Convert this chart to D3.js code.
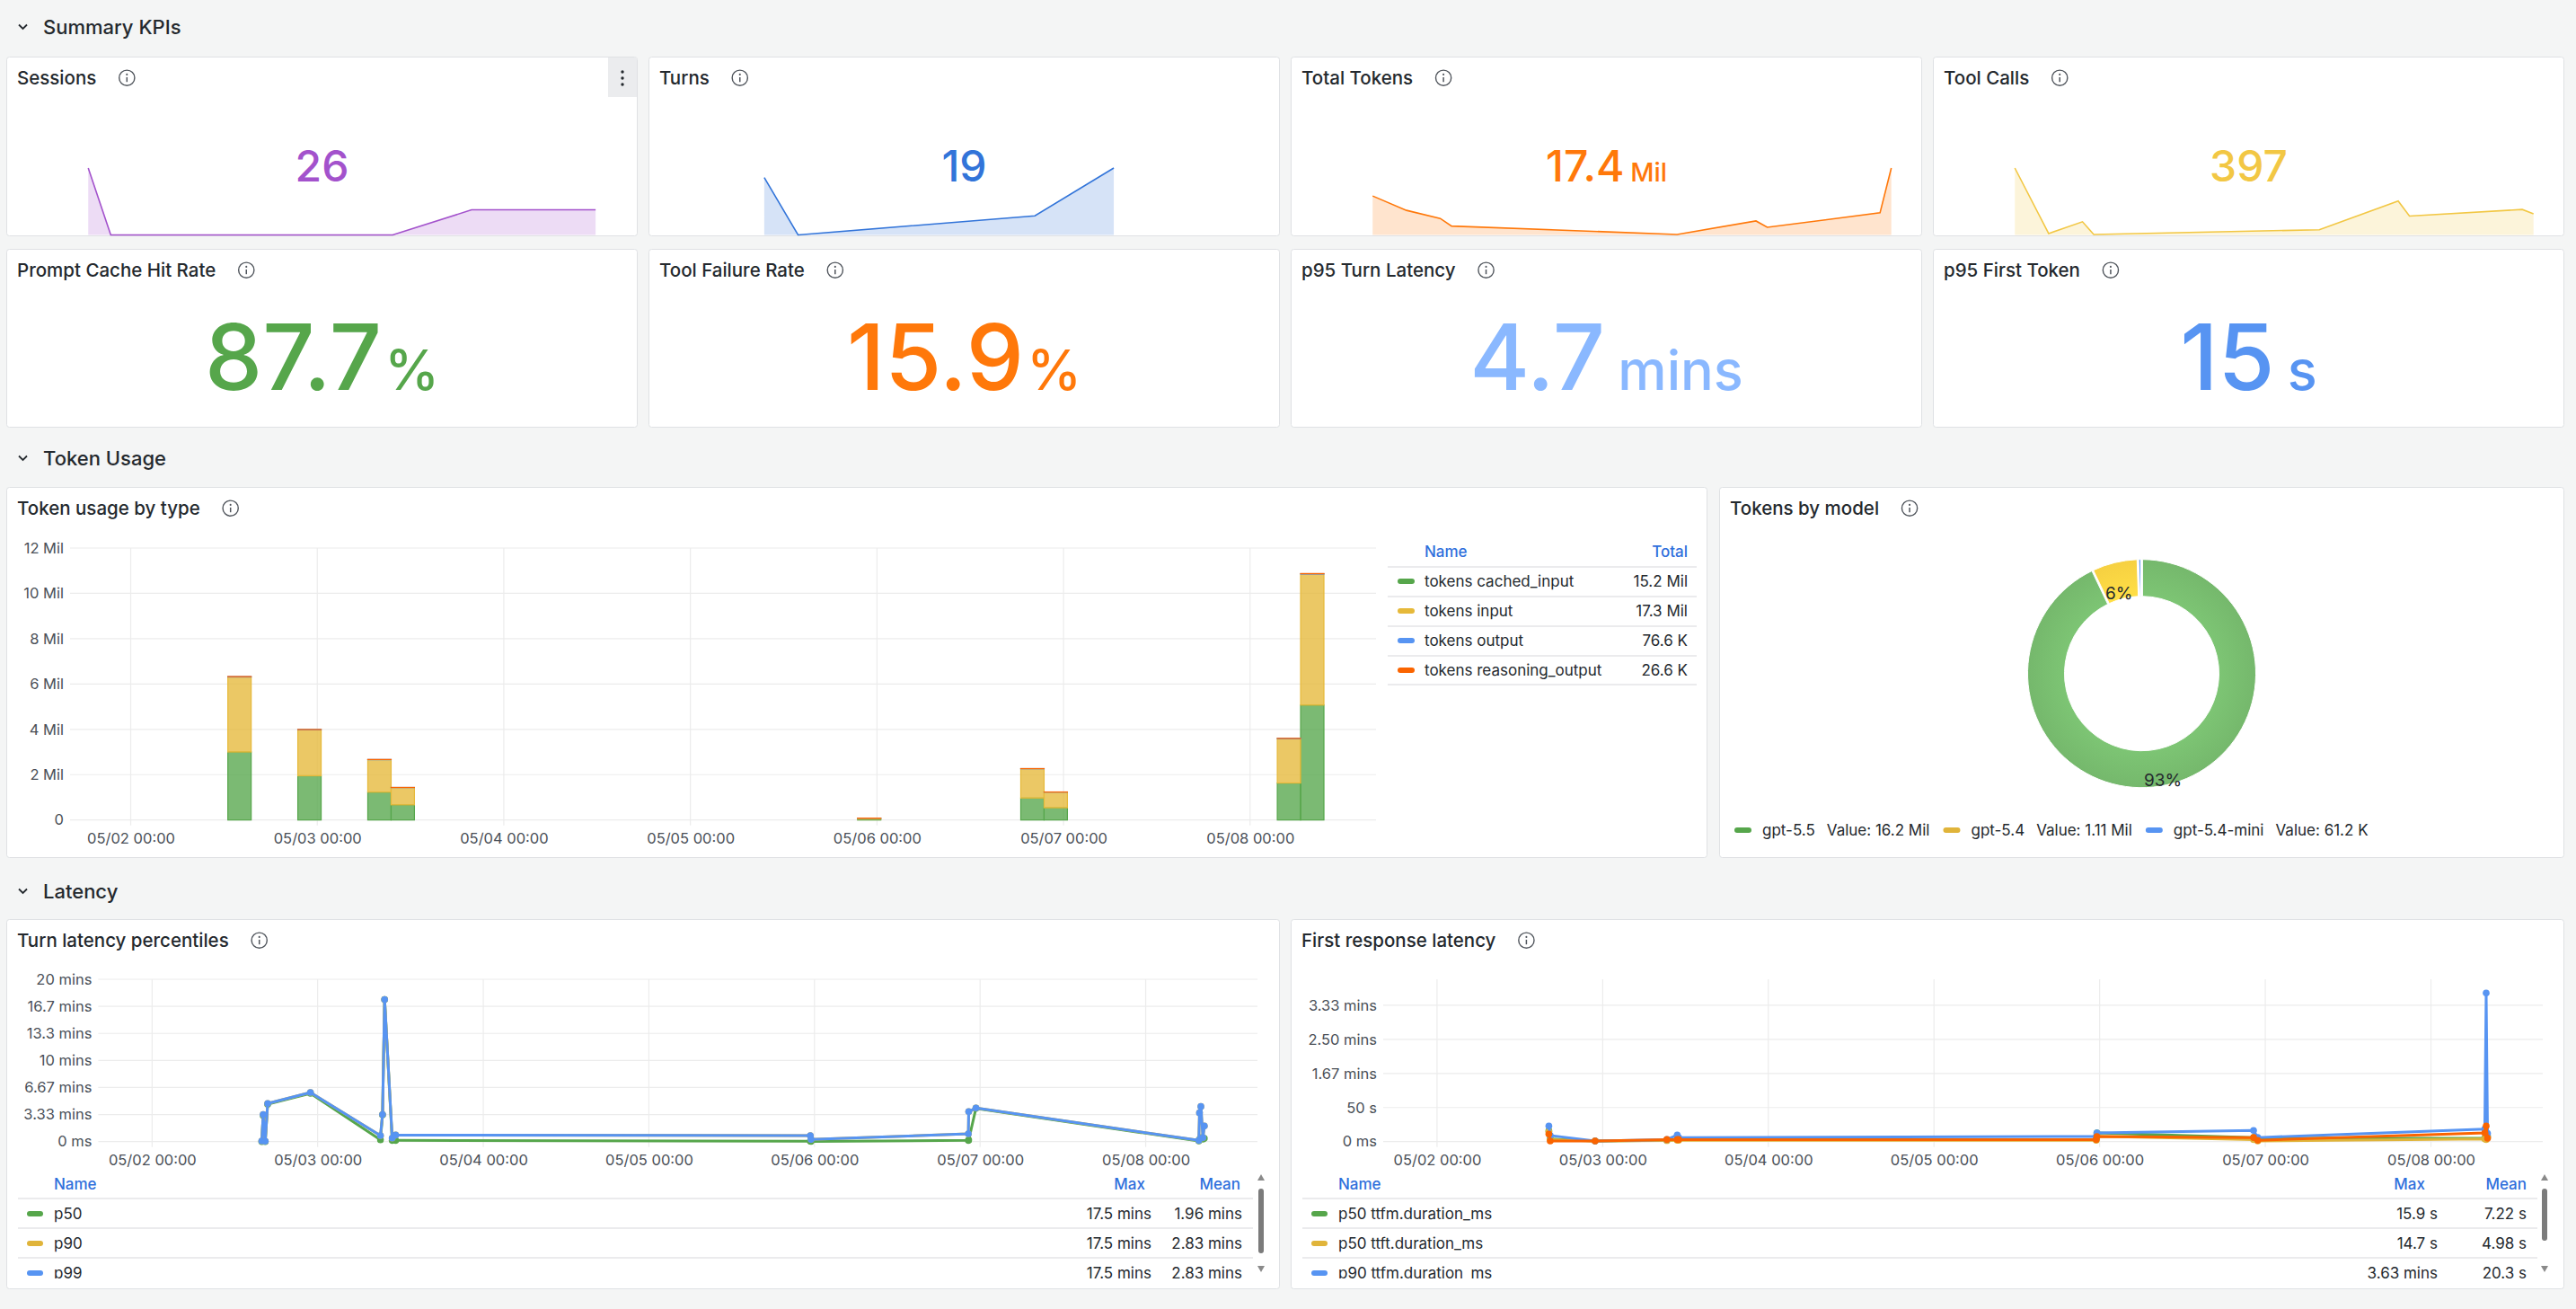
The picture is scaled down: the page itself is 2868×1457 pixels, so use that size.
<!DOCTYPE html>
<html>
<head>
<meta charset="utf-8">
<script src="https://cdn.jsdelivr.net/npm/d3@7"></script>
<style>
  html, body { margin: 0; padding: 0; background: #f4f5f5; }
  svg { display: block; }
</style>
</head>
<body>
<script>
const parseT = d3.timeParse("%m/%d %H:%M");
const fmtTick = d3.timeFormat("%m/%d %H:%M");

// dashboard time range + daily ticks
const timeRange = ["05/01 16:12", "05/08 16:12"];
const dayTicks = ["05/02 00:00", "05/03 00:00", "05/04 00:00", "05/05 00:00", "05/06 00:00", "05/07 00:00", "05/08 00:00"];

// summary KPIs
const kpiTitles = ["Sessions", "Turns", "Total Tokens", "Tool Calls"];
const kpiValues = ["26", "19", "17.4", "397"];
const kpiUnits = ["", "", "Mil", ""];
const kpiColors = ["#a352cc", "#3274d9", "#ff780a", "#f2c744"];

const sessionTimes = ["05/02 14:00", "05/02 20:00", "05/03 08:00", "05/05 23:00", "05/06 20:00", "05/08 05:00"];
const sessionCounts = [8, 0, 0, 0, 3, 3];
const turnTimes = ["05/02 23:00", "05/03 08:00", "05/05 23:00", "05/06 20:00"];
const turnCounts = [6, 0, 2, 7];
const bucketTimes = ["05/02 14:00", "05/02 23:00", "05/03 08:00", "05/03 11:00", "05/05 23:00", "05/06 20:00", "05/06 23:00", "05/08 05:00", "05/08 08:00"];
const toolCallCounts = [142, 3, 28, 1, 11, 72, 40, 54, 45];

const rateTitles = ["Prompt Cache Hit Rate", "Tool Failure Rate", "p95 Turn Latency", "p95 First Token"];
const rateValues = ["87.7", "15.9", "4.7", "15"];
const rateUnits = ["%", "%", "mins", "s"];
const rateColors = ["#56a64b", "#ff780a", "#8ab8ff", "#5794f2"];

// token usage by type, millions of tokens per 3h bucket
const tokenNames = ["tokens cached_input", "tokens input", "tokens output", "tokens reasoning_output"];
const tokenColors = ["#56a64b", "#e6b93a", "#5794f2", "#fa6400"];
const cachedInput = [3.0, 1.95, 1.23, 0.67, 0.04, 0.97, 0.54, 1.63, 5.07];
const inputTokens = [3.31, 2.03, 1.43, 0.76, 0.04, 1.29, 0.69, 1.96, 5.78];
const outputTokens = [0.015, 0.01, 0.008, 0.005, 0.002, 0.006, 0.004, 0.009, 0.0176];
const reasoningTokens = [0.005, 0.003, 0.003, 0.002, 0.001, 0.002, 0.0015, 0.003, 0.0061];
const tokenTotals = ["15.2 Mil", "17.3 Mil", "76.6 K", "26.6 K"];
const tokenTicks = [0, 2, 4, 6, 8, 10, 12];
const tokenTickLabels = ["0", "2 Mil", "4 Mil", "6 Mil", "8 Mil", "10 Mil", "12 Mil"];

// tokens by model
const models = ["gpt-5.5", "gpt-5.4", "gpt-5.4-mini"];
const modelTokens = [16.2, 1.11, 0.0612];
const modelValueLabels = ["16.2 Mil", "1.11 Mil", "61.2 K"];
const modelColors = ["#56a64b", "#e0b43a", "#5794f2"];
const modelSliceColors = ["#78bd6f", "#fdd643", "#6aa1f5"];

// turn latency percentiles, minutes
const turnLatTimes = ["05/02 15:54", "05/02 16:06", "05/02 16:24", "05/02 16:45", "05/02 22:57", "05/03 09:06", "05/03 09:24", "05/03 09:42", "05/03 10:48", "05/03 11:18", "05/05 23:24", "05/05 23:30", "05/06 22:18", "05/06 22:21", "05/06 23:24", "05/08 07:42", "05/08 07:48", "05/08 08:00", "05/08 08:18", "05/08 08:30"];
const turnP50 = [0, 3.2, 0, 4.6, 5.95, 0.22, 3.3, 17.5, 0.15, 0.15, 0.05, 0.02, 0.15, 0.2, 4.1, 0.07, 0.3, 0.5, 0.3, 0.4];
const turnP90 = [0.07, 3.33, 0.05, 4.7, 6.05, 0.74, 3.35, 17.5, 0.44, 0.81, 0.74, 0.26, 0.96, 3.69, 4.14, 0.15, 3.55, 4.32, 0.48, 1.92];
const turnP99 = [0.07, 3.33, 0.05, 4.7, 6.05, 0.74, 3.35, 17.5, 0.44, 0.81, 0.74, 0.26, 0.96, 3.69, 4.14, 0.15, 3.55, 4.32, 0.48, 1.92];
const turnTicks = [0, 10 / 3, 20 / 3, 10, 40 / 3, 50 / 3, 20];
const turnTickLabels = ["0 ms", "3.33 mins", "6.67 mins", "10 mins", "13.3 mins", "16.7 mins", "20 mins"];
const turnLegendNames = ["p50", "p90", "p99"];
const turnLegendMax = ["17.5 mins", "17.5 mins", "17.5 mins"];
const turnLegendMean = ["1.96 mins", "2.83 mins", "2.83 mins"];

// first response latency, seconds
const firstTimes = ["05/02 16:12", "05/02 16:24", "05/02 22:54", "05/03 09:18", "05/03 10:48", "05/03 11:00", "05/05 23:30", "05/05 23:36", "05/06 22:18", "05/06 22:54", "05/08 07:48", "05/08 08:00", "05/08 08:12"];
const ttfmP50 = [15.9, 4, 1, 2, 3, 3, 3, 12.8, 6, 5, 5, 6, 8];
const ttftP50 = [14.7, 3, 1, 1.5, 2, 2, 2, 8, 3, 1, 4, 3, 6];
const ttfmP90 = [23, 9, 1, 3, 9.7, 6, 7.5, 12.8, 16.3, 6, 18.5, 218, 12];
const ttftP90 = [11, 1, 1, 3, 3, 3, 3, 7.5, 6, 2, 12.8, 23, 5];
const firstTicks = [0, 50, 100, 150, 200];
const firstTickLabels = ["0 ms", "50 s", "1.67 mins", "2.50 mins", "3.33 mins"];
const firstLegendNames = ["p50 ttfm.duration_ms", "p50 ttft.duration_ms", "p90 ttfm.duration_ms"];
const firstLegendMax = ["15.9 s", "14.7 s", "3.63 mins"];
const firstLegendMean = ["7.22 s", "4.98 s", "20.3 s"];

const W = 2868, H = 1457;
const TEXT = "#24292e";
const AXIS = "#4a4f57";
const LINK = "#2f6fdc";
const GRID = "#ececec";
const FONT = "Inter, 'Noto Sans', sans-serif";

const svg = d3.select("body").append("svg")
  .attr("width", W)
  .attr("height", H)
  .style("font-family", FONT);
const defs = svg.append("defs");

svg.append("rect").attr("width", W).attr("height", H).attr("fill", "#f4f5f5");

const rowHeader = (y, label) => {
  svg.append("path")
    .attr("d", `M21,${y - 2.5} l4.5,4.5 l4.5,-4.5`)
    .attr("fill", "none")
    .attr("stroke", TEXT)
    .attr("stroke-width", 1.8);
  svg.append("text")
    .attr("x", 48)
    .attr("y", y)
    .attr("dy", "0.36em")
    .attr("font-size", 22)
    .attr("font-weight", 500)
    .attr("fill", TEXT)
    .text(label);
};

const panel = (x, y, w, h, title) => {
  const g = svg.append("g").attr("transform", `translate(${x}, ${y})`);
  g.append("rect")
    .attr("x", 0.5).attr("y", 0.5)
    .attr("width", w - 1).attr("height", h - 1)
    .attr("rx", 3)
    .attr("fill", "#fff")
    .attr("stroke", "#dfe1e4");
  const t = g.append("text")
    .attr("x", 12).attr("y", 30.5)
    .attr("font-size", 20.5)
    .attr("font-weight", 500)
    .attr("fill", TEXT)
    .text(title);
  const ix = 12 + t.node().getComputedTextLength() + 34;
  const info = g.append("g").attr("transform", `translate(${ix}, 23.7)`);
  info.append("circle").attr("r", 8.6).attr("fill", "none").attr("stroke", "#50555c").attr("stroke-width", 1.4);
  info.append("line").attr("x1", 0).attr("x2", 0).attr("y1", -0.8).attr("y2", 4.5)
    .attr("stroke", "#50555c").attr("stroke-width", 1.5);
  info.append("circle").attr("cy", -3.8).attr("r", 1.05).attr("fill", "#50555c");
  return g;
};

const statText = (g, cx, y, value, unit, fs, color) => {
  const t = g.append("text")
    .attr("x", cx).attr("y", y)
    .attr("text-anchor", "middle")
    .attr("font-size", fs)
    .attr("font-weight", 500)
    .attr("fill", color);
  t.append("tspan").text(value);
  if (unit) {
    t.append("tspan")
      .attr("font-size", fs * 0.6)
      .attr("dx", unit === "%" ? fs * 0.03 : fs * 0.14)
      .text(unit);
  }
};

const styleAxis = sel => {
  sel.select(".domain").remove();
  sel.selectAll("text")
    .attr("font-family", FONT)
    .attr("font-size", 16.5)
    .attr("fill", AXIS);
};

const plotFrame = (g, c) => {
  const x = d3.scaleTime().domain(timeRange.map(parseT)).range([c.left, c.right]);
  const y = d3.scaleLinear().domain(c.yDomain).range([c.bottom, c.top]);

  g.append("g").selectAll("line").data(c.yTicks).join("line")
    .attr("x1", c.left).attr("x2", c.right)
    .attr("y1", d => y(d)).attr("y2", d => y(d))
    .attr("stroke", GRID).attr("stroke-width", 1.2);
  g.append("g").selectAll("line").data(dayTicks.map(parseT)).join("line")
    .attr("x1", d => x(d)).attr("x2", d => x(d))
    .attr("y1", c.top).attr("y2", c.bottom + 6)
    .attr("stroke", GRID).attr("stroke-width", 1.2);

  const yAxis = d3.axisLeft(y)
    .tickValues(c.yTicks)
    .tickFormat((d, i) => c.yLabels[i])
    .tickSize(0)
    .tickPadding(7);
  g.append("g").attr("transform", `translate(${c.left}, 0)`).call(yAxis).call(styleAxis);

  const xAxis = d3.axisBottom(x)
    .tickValues(dayTicks.map(parseT))
    .tickFormat(fmtTick)
    .tickSize(0)
    .tickPadding(15);
  g.append("g").attr("transform", `translate(0, ${c.bottom})`).call(xAxis).call(styleAxis);

  return { x, y };
};

const drawSeries = (g, x, y, times, values, color) => {
  const pts = times.map((t, i) => ({ t: parseT(t), v: values[i] }));
  const line = d3.line().x(d => x(d.t)).y(d => y(d.v));
  g.append("path")
    .datum(pts)
    .attr("d", line)
    .attr("fill", "none")
    .attr("stroke", color)
    .attr("stroke-width", 3)
    .attr("stroke-linejoin", "round");
  g.append("g").selectAll("circle").data(pts).join("circle")
    .attr("cx", d => x(d.t))
    .attr("cy", d => y(d.v))
    .attr("r", 3.8)
    .attr("fill", color);
};

const latencyLegend = (g, id, pw, names, colors, maxes, means, c) => {
  g.append("text").attr("x", 53).attr("y", 295).attr("dy", "0.35em")
    .attr("font-size", 17).attr("font-weight", 500).attr("fill", LINK).text("Name");
  g.append("text").attr("x", c.maxHead).attr("y", 295).attr("dy", "0.35em").attr("text-anchor", "end")
    .attr("font-size", 17).attr("font-weight", 500).attr("fill", LINK).text("Max");
  g.append("text").attr("x", c.meanHead).attr("y", 295).attr("dy", "0.35em").attr("text-anchor", "end")
    .attr("font-size", 17).attr("font-weight", 500).attr("fill", LINK).text("Mean");

  defs.append("clipPath").attr("id", id)
    .append("rect").attr("x", 0).attr("y", 300).attr("width", pw).attr("height", 100);
  const body = g.append("g").attr("clip-path", `url(#${id})`);
  [311, 344, 377, 410].forEach(sy => {
    body.append("line").attr("x1", 13).attr("x2", 1388).attr("y1", sy).attr("y2", sy)
      .attr("stroke", "#e4e5e7").attr("stroke-width", 1.5);
  });
  names.forEach((n, i) => {
    const ry = 328 + i * 33;
    body.append("rect").attr("x", 23).attr("y", ry - 3).attr("width", 18).attr("height", 6).attr("rx", 3)
      .attr("fill", colors[i]);
    body.append("text").attr("x", 53).attr("y", ry).attr("dy", "0.35em")
      .attr("font-size", 17).attr("fill", TEXT).text(n);
    body.append("text").attr("x", c.maxVal).attr("y", ry).attr("dy", "0.35em").attr("text-anchor", "end")
      .attr("font-size", 17).attr("fill", TEXT).text(maxes[i]);
    body.append("text").attr("x", c.meanVal).attr("y", ry).attr("dy", "0.35em").attr("text-anchor", "end")
      .attr("font-size", 17).attr("fill", TEXT).text(means[i]);
  });

  // scrollbar
  const sx = c.scroll;
  g.append("path").attr("d", `M${sx - 4},291 L${sx + 4},291 L${sx},284 Z`).attr("fill", "#8a8a8a");
  g.append("path").attr("d", `M${sx - 4},386 L${sx + 4},386 L${sx},393 Z`).attr("fill", "#8a8a8a");
  g.append("rect").attr("x", sx - 3).attr("y", 300).attr("width", 6).attr("height", c.thumb).attr("rx", 3)
    .attr("fill", "#7b7b7b");
};

// ---------- rows ----------
rowHeader(30, "Summary KPIs");
rowHeader(510, "Token Usage");
rowHeader(992, "Latency");

// ---------- KPI stats ----------
const bucketTotals = bucketTimes.map((t, i) => cachedInput[i] + inputTokens[i] + outputTokens[i] + reasoningTokens[i]);
const kpiSpark = [
  [sessionTimes, sessionCounts],
  [turnTimes, turnCounts],
  [bucketTimes, bucketTotals],
  [bucketTimes, toolCallCounts]
];

kpiTitles.forEach((title, i) => {
  const pw = 703, ph = 200;
  const g = panel(7 + i * 715, 63, pw, ph, title);
  const [times, values] = kpiSpark[i];
  const pts = times.map((t, j) => ({ t: parseT(t), v: values[j] }));
  const sx = d3.scaleTime().domain(timeRange.map(parseT)).range([0, pw]);
  const sy = d3.scaleLinear().domain([0, d3.max(values)]).range([ph - 1.5, 124]);
  g.append("path")
    .datum(pts)
    .attr("d", d3.area().x(d => sx(d.t)).y0(ph - 1.5).y1(d => sy(d.v)))
    .attr("fill", kpiColors[i])
    .attr("fill-opacity", 0.2);
  g.append("path")
    .datum(pts)
    .attr("d", d3.line().x(d => sx(d.t)).y(d => sy(d.v)))
    .attr("fill", "none")
    .attr("stroke", kpiColors[i])
    .attr("stroke-width", 1.6);
  statText(g, pw / 2, 139, kpiValues[i], kpiUnits[i], 48, kpiColors[i]);

  if (i === 0) {
    g.append("rect").attr("x", 670).attr("y", 1).attr("width", 32).attr("height", 44).attr("fill", "#ebecee");
    [17, 24, 31].forEach(dy => g.append("circle").attr("cx", 686).attr("cy", dy).attr("r", 1.7).attr("fill", TEXT));
  }
});

rateTitles.forEach((title, i) => {
  const g = panel(7 + i * 715, 277, 703, 199, title);
  statText(g, 703 / 2, 157, rateValues[i], rateUnits[i], 102, rateColors[i]);
});

// ---------- token usage by type ----------
{
  const pw = 1894;
  const g = panel(7, 542, pw, 413, "Token usage by type");
  const { x, y } = plotFrame(g, {
    left: 71, right: 1525, top: 68, bottom: 370.7,
    yDomain: [0, 12], yTicks: tokenTicks, yLabels: tokenTickLabels
  });

  const keys = ["cached", "input", "output", "reasoning"];
  const table = bucketTimes.map((t, i) => ({
    t: parseT(t),
    cached: cachedInput[i],
    input: inputTokens[i],
    output: outputTokens[i],
    reasoning: reasoningTokens[i]
  }));
  const stack = d3.stack().keys(keys)(table);
  const half = 1.5 * 3600 * 1000;

  stack.forEach((layer, k) => {
    g.append("g").selectAll("rect").data(layer).join("rect")
      .attr("x", d => x(new Date(+d.data.t - half)))
      .attr("width", d => x(new Date(+d.data.t + half)) - x(new Date(+d.data.t - half)))
      .attr("y", d => y(d[1]))
      .attr("height", d => Math.max(0, y(d[0]) - y(d[1])))
      .attr("fill", tokenColors[k])
      .attr("fill-opacity", 0.78)
      .attr("stroke", tokenColors[k])
      .attr("stroke-width", 1.2);
  });

  // legend table
  const lx = 1538, rx = 1882;
  g.append("text").attr("x", 1579).attr("y", 72).attr("dy", "0.35em")
    .attr("font-size", 17).attr("font-weight", 500).attr("fill", LINK).text("Name");
  g.append("text").attr("x", 1872).attr("y", 72).attr("dy", "0.35em").attr("text-anchor", "end")
    .attr("font-size", 17).attr("font-weight", 500).attr("fill", LINK).text("Total");
  [89, 122, 155, 188, 220].forEach(sy => {
    g.append("line").attr("x1", lx).attr("x2", rx).attr("y1", sy).attr("y2", sy)
      .attr("stroke", "#e4e5e7").attr("stroke-width", 1.5);
  });
  tokenNames.forEach((n, i) => {
    const ry = 105 + i * 33;
    g.append("rect").attr("x", 1549).attr("y", ry - 3).attr("width", 19).attr("height", 6).attr("rx", 3)
      .attr("fill", tokenColors[i]);
    g.append("text").attr("x", 1579).attr("y", ry).attr("dy", "0.35em")
      .attr("font-size", 17).attr("fill", TEXT).text(n);
    g.append("text").attr("x", 1872).attr("y", ry).attr("dy", "0.35em").attr("text-anchor", "end")
      .attr("font-size", 17).attr("fill", TEXT).text(tokenTotals[i]);
  });
}

// ---------- tokens by model ----------
{
  const pw = 941;
  const g = panel(1914, 542, pw, 413, "Tokens by model");
  const cx = pw / 2, cy = 207.7, rOut = 127, rIn = 86;
  const data = models.map((m, i) => ({ m, v: modelTokens[i], c: modelSliceColors[i] }));
  const total = d3.sum(modelTokens);
  const pie = d3.pie().sort(null).value(d => d.v).padAngle(0.012);
  const arc = d3.arc().innerRadius(rIn).outerRadius(rOut);
  const labelArc = d3.arc().innerRadius((rIn + rOut) / 2).outerRadius((rIn + rOut) / 2);

  data.forEach((d, i) => {
    const gr = defs.append("radialGradient").attr("id", `pieGrad${i}`)
      .attr("gradientUnits", "userSpaceOnUse")
      .attr("cx", 0).attr("cy", 0).attr("r", rOut);
    gr.append("stop").attr("offset", rIn / rOut).attr("stop-color", d3.color(d.c).brighter(0.12));
    gr.append("stop").attr("offset", 1).attr("stop-color", d3.color(d.c).darker(0.08));
  });

  const pg = g.append("g").attr("transform", `translate(${cx}, ${cy})`);
  const arcs = pie(data);
  pg.selectAll("path").data(arcs).join("path")
    .attr("d", arc)
    .attr("fill", (d, i) => `url(#pieGrad${i})`)
    .attr("stroke", "#fff")
    .attr("stroke-width", 1);
  pg.selectAll("text").data(arcs.filter(d => d.data.v / total >= 0.01)).join("text")
    .attr("x", d => labelArc.centroid(d)[0])
    .attr("y", d => labelArc.centroid(d)[1] + 14.5)
    .attr("dy", "0.35em")
    .attr("text-anchor", "middle")
    .attr("font-size", 19)
    .attr("fill", TEXT)
    .text(d => `${Math.round(d.data.v / total * 100)}%`);

  // legend
  let lx = 17;
  models.forEach((m, i) => {
    const ly = 382;
    g.append("rect").attr("x", lx).attr("y", ly - 3).attr("width", 19).attr("height", 6).attr("rx", 3)
      .attr("fill", modelColors[i]);
    lx += 31;
    const t1 = g.append("text").attr("x", lx).attr("y", ly).attr("dy", "0.35em")
      .attr("font-size", 17).attr("fill", TEXT).text(m);
    lx += t1.node().getComputedTextLength() + 13;
    const t2 = g.append("text").attr("x", lx).attr("y", ly).attr("dy", "0.35em")
      .attr("font-size", 17).attr("fill", TEXT).text(`Value: ${modelValueLabels[i]}`);
    lx += t2.node().getComputedTextLength() + 15;
  });
}

// ---------- turn latency percentiles ----------
{
  const pw = 1418;
  const g = panel(7, 1023, pw, 412, "Turn latency percentiles");
  const { x, y } = plotFrame(g, {
    left: 102.4, right: 1393, top: 67, bottom: 247.7,
    yDomain: [0, 20], yTicks: turnTicks, yLabels: turnTickLabels
  });
  drawSeries(g, x, y, turnLatTimes, turnP50, "#56a64b");
  drawSeries(g, x, y, turnLatTimes, turnP90, "#e0b43a");
  drawSeries(g, x, y, turnLatTimes, turnP99, "#5794f2");
  latencyLegend(g, "clipTurn", pw, turnLegendNames, ["#56a64b", "#e0b43a", "#5794f2"],
    turnLegendMax, turnLegendMean,
    { maxHead: 1268, meanHead: 1374, maxVal: 1275, meanVal: 1376, scroll: 1397, thumb: 72 });
}

// ---------- first response latency ----------
{
  const pw = 1418;
  const g = panel(1437, 1023, pw, 412, "First response latency");
  const { x, y } = plotFrame(g, {
    left: 103, right: 1394, top: 67, bottom: 247.7,
    yDomain: [0, 238], yTicks: firstTicks, yLabels: firstTickLabels
  });
  drawSeries(g, x, y, firstTimes, ttfmP50, "#56a64b");
  drawSeries(g, x, y, firstTimes, ttftP50, "#e0b43a");
  drawSeries(g, x, y, firstTimes, ttfmP90, "#5794f2");
  drawSeries(g, x, y, firstTimes, ttftP90, "#fa6400");
  latencyLegend(g, "clipFirst", pw, firstLegendNames, ["#56a64b", "#e0b43a", "#5794f2"],
    firstLegendMax, firstLegendMean,
    { maxHead: 1263, meanHead: 1376, maxVal: 1277, meanVal: 1376, scroll: 1396, thumb: 58 });
}
</script>
</body>
</html>
